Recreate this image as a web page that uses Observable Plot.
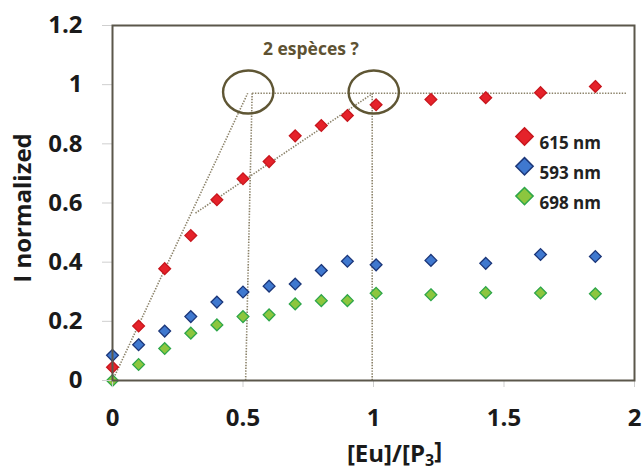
<!DOCTYPE html>
<html>
<head>
<meta charset="utf-8">
<script src="https://cdn.jsdelivr.net/npm/d3@7"></script>
<script src="https://cdn.jsdelivr.net/npm/@observablehq/plot@0.6"></script>
<style>
  html, body { margin: 0; padding: 0; background: #fff; }
  #chart svg { display: block; }
</style>
</head>
<body>
<div id="chart"></div>
<script>
// ---- data ----
const ratio  = [0, 0.1, 0.2, 0.3, 0.4, 0.5, 0.6, 0.7, 0.8, 0.9, 1.01, 1.22, 1.43, 1.64, 1.85];
const nm615  = [0.045, 0.184, 0.378, 0.490, 0.611, 0.682, 0.740, 0.827, 0.862, 0.896, 0.932, 0.950, 0.956, 0.973, 0.994];
const nm593  = [0.085, 0.121, 0.167, 0.216, 0.265, 0.299, 0.319, 0.326, 0.372, 0.403, 0.391, 0.406, 0.396, 0.426, 0.419];
const nm698  = [0.000, 0.054, 0.108, 0.160, 0.188, 0.216, 0.222, 0.259, 0.270, 0.270, 0.295, 0.290, 0.297, 0.296, 0.293];
const seriesNames = ["615 nm", "593 nm", "698 nm"];
const xTicks = [0, 0.5, 1, 1.5, 2];
const yTicks = [0, 0.2, 0.4, 0.6, 0.8, 1, 1.2];
// guide lines (dotted) in data units
const guideX1 = [0.000, 0.318, 0.535, 0.535, 0.995];
const guideY1 = [0.000, 0.566, 0.971, 0.971, 0.971];
const guideX2 = [0.518, 0.995, 1.969, 0.510, 0.995];
const guideY2 = [0.971, 0.969, 0.971, 0.000, 0.000];
// circled points
const circleX = [0.52, 1.001];
const circleY = [0.975, 0.975];
const annotation = "2 espèces ?";
const annotationX = 0.76;
const annotationY = 1.12;

// ---- styles ----
const fills   = ["#e5222a", "#3f78cf", "#8cc63e"];
const strokes = ["#c8161d", "#1b3679", "#2ea64a"];
const font = "'Open Sans', Lato, sans-serif";

const points = [nm615, nm593, nm698].flatMap((vals, i) =>
  vals.map((v, j) => ({x: ratio[j], y: v, s: i})));
const guides = guideX1.map((d, i) => ({x1: guideX1[i], y1: guideY1[i], x2: guideX2[i], y2: guideY2[i]}));
const circles = circleX.map((d, i) => ({x: circleX[i], y: circleY[i]}));

const ellipse = {
  draw(ctx, size) {
    const ry = Math.sqrt(size / Math.PI), rx = ry * 1.17, k = 0.5523;
    ctx.moveTo(rx, 0);
    ctx.bezierCurveTo(rx, k * ry, k * rx, ry, 0, ry);
    ctx.bezierCurveTo(-k * rx, ry, -rx, k * ry, -rx, 0);
    ctx.bezierCurveTo(-rx, -k * ry, -k * rx, -ry, 0, -ry);
    ctx.bezierCurveTo(k * rx, -ry, rx, -k * ry, rx, 0);
    ctx.closePath();
  }
};

const legendMarks = seriesNames.flatMap((name, i) => [
  Plot.dot([name], {frameAnchor: "top-left", dx: 412, dy: 111 + 29.8 * i, symbol: "diamond2",
    r: 7.8, fill: fills[i], stroke: strokes[i], strokeWidth: 1.5}),
  Plot.text([name], {frameAnchor: "top-left", dx: 427, dy: 111.5 + 29.8 * i, text: d => d,
    textAnchor: "start", fontSize: 17, fontWeight: "bold", fill: "#222", fontFamily: font})
]);

const chart = Plot.plot({
  width: 643,
  height: 473,
  marginLeft: 112,
  marginRight: 9,
  marginTop: 25,
  marginBottom: 93,
  style: {fontFamily: font, background: "#fff"},
  x: {domain: [0, 2]},
  y: {domain: [0, 1.2]},
  marks: [
    Plot.link(guides, {x1: "x1", y1: "y1", x2: "x2", y2: "y2",
      stroke: "#8a8168", strokeWidth: 1.6, strokeDasharray: "1.4,1.4"}),
    Plot.dot(points, {x: "x", y: "y", symbol: "diamond2", r: 5.3,
      fill: d => fills[d.s], stroke: d => strokes[d.s], strokeWidth: 1.3}),
    Plot.dot(circles, {x: "x", y: "y", symbol: ellipse, r: 21.5,
      fill: "none", stroke: "#5f5634", strokeWidth: 2.4}),
    Plot.text([annotation], {x: annotationX, y: annotationY, text: d => d,
      fontSize: 17.5, fontWeight: "bold", fill: "#5e5232", fontFamily: font}),
    Plot.axisY({ticks: yTicks, tickFormat: d => String(d), tickSize: 10, tickPadding: 20,
      stroke: "#cfcfcf", fontSize: 24, fontWeight: "bold", fill: "#1a1a1a", label: null}),
    Plot.axisX({ticks: xTicks, tickFormat: d => String(d), tickSize: 7, tickPadding: 21,
      stroke: "#cfcfcf", fontSize: 24, fontWeight: "bold", fill: "#1a1a1a", label: null}),
    Plot.frame({stroke: "#5b574b", strokeWidth: 2}),
    Plot.text(["I normalized"], {frameAnchor: "left", dx: -89, dy: 5, rotate: -90, text: d => d,
      textAnchor: "middle", fontSize: 24, fontWeight: "bold", fill: "#1a1a1a", fontFamily: font}),
    Plot.text(["[Eu]/[P3]"], {frameAnchor: "bottom", dx: 21, dy: 81, text: d => d, className: "xlab",
      fontSize: 24, fontWeight: "bold", fill: "#1a1a1a", fontFamily: font}),
    ...legendMarks
  ]
});

// subscript for the x-axis title
d3.select(chart).selectAll(".xlab text").each(function() {
  const t = d3.select(this);
  t.text(null);
  t.append("tspan").text("[Eu]/[P");
  t.append("tspan").attr("font-size", 16).attr("dy", "0.3em").text("3");
  t.append("tspan").attr("dy", "-0.3em").text("]");
});

document.getElementById("chart").appendChild(chart);
</script>
</body>
</html>
